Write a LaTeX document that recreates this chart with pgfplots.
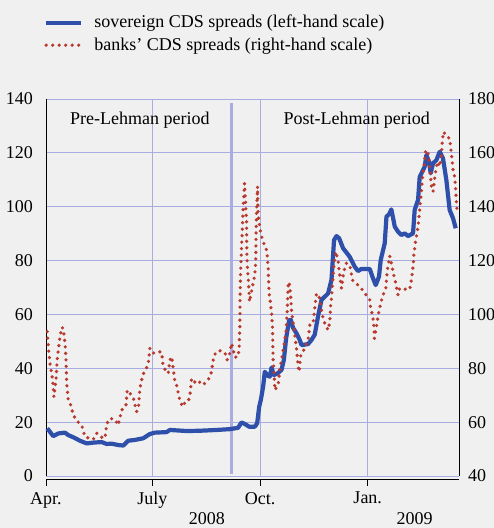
\documentclass[border=0pt]{standalone}
\usepackage{fontspec}
\setmainfont{Liberation Serif}
\usepackage{pgfplots}
\pgfplotsset{compat=1.18}
\definecolor{bg}{RGB}{240,240,240}
\definecolor{gridc}{RGB}{168,172,224}
\definecolor{sov}{RGB}{46,80,170}
\definecolor{bank}{RGB}{184,58,46}
\begin{document}
\fontsize{18}{21.6}\selectfont
\begin{tikzpicture}
\fill[bg] (0,0) rectangle (494pt,528pt);
\useasboundingbox (0,0) rectangle (494pt,528pt);
\begin{axis}[
  at={(46pt,52pt)}, anchor=south west,
  scale only axis, width=413pt, height=377pt,
  xmin=0, xmax=353, ymin=0, ymax=140,
  axis x line*=bottom, axis y line*=left,
  axis line style={-, black, line width=0.8pt},
  x axis line style={yshift=-3pt},
  xtick={0,91,183,275}, xticklabels={Apr.,July,Oct.,Jan.},
  xticklabel style={yshift=-3pt},
  ytick={0,20,...,140},
  xmajorgrids, ymajorgrids,
  grid style={gridc, line width=0.9pt},
  tick align=outside,
  major tick length=7pt,
  xtick style={black, line width=0.8pt, yshift=-3pt},
  ytick style={draw=none},
  /pgf/number format/assume math mode=true,
  clip=false,
  legend style={at={(-0.005,1.228)}, anchor=north west, draw=none, fill=none,
    inner sep=0pt, row sep=3pt, cells={anchor=west}},
  legend image code/.code={\draw[#1] (0pt,0pt) -- (35pt,0pt); \path (44pt,0pt);},
]
\addplot[gridc, line width=3pt, forget plot] coordinates {(158.5,0.7) (158.5,138.5)};
\addplot[sov, line width=4.2pt, line join=round] table {
x y
1.1 17.7
6.2 14.8
10.5 15.8
16.2 16.1
19.0 15.2
23.3 14.4
29.0 13.1
34.8 12.1
40.4 12.4
47.6 12.6
51.8 11.9
56.1 12.0
61.7 11.5
66.0 11.3
70.3 13.1
76.0 13.4
83.1 14.0
88.8 15.6
93.1 16.1
103.1 16.3
105.9 17.1
120.2 16.7
131.5 16.8
145.8 17.1
157.1 17.4
164.2 17.9
167.1 19.9
170.0 19.3
173.6 18.3
178.5 18.3
180.5 19.6
182.2 25.7
183.6 28.2
185.6 33.2
187.0 38.7
189.6 37.2
191.3 36.9
192.8 40.3
194.7 37.5
197.9 38.1
201.3 39.4
203.3 43.1
205.2 51.0
207.8 57.8
209.2 58.0
211.2 55.0
214.1 53.0
216.9 50.5
218.4 48.6
224.0 49.0
226.9 50.5
229.7 52.5
232.6 59.5
235.5 65.4
238.3 66.6
241.1 67.8
244.0 72.8
246.2 87.6
248.3 89.1
250.5 88.3
253.9 84.6
259.6 81.4
263.9 77.7
266.7 76.1
269.6 76.9
276.7 76.9
279.5 73.4
281.8 70.9
284.6 74.0
286.1 80.2
289.5 86.4
291.0 96.3
293.2 97.2
295.2 99.0
298.1 92.6
300.9 90.7
303.8 89.5
306.6 90.1
309.4 89.1
313.7 90.1
315.1 98.8
318.0 102.5
319.4 111.1
320.9 112.4
323.7 114.9
325.1 119.2
327.4 116.7
328.8 112.4
330.8 116.1
333.7 117.3
336.5 120.4
339.3 118.0
342.2 109.9
345.0 98.8
347.9 95.7
350.2 92.0
};
\addlegendentry{sovereign CDS spreads (left-hand scale)}
\addlegendimage{bank, line width=3.6pt, line cap=round, dash pattern=on 0pt off 6.5pt}
\addlegendentry{banks' CDS spreads (right-hand scale)}
\node at (axis cs:80.3,132.2) {Pre-Lehman period};
\node at (axis cs:265.6,132.2) {Post-Lehman period};
\node at (axis cs:137.5,0) [yshift=-43pt] {2008};
\node at (axis cs:315,0) [yshift=-43pt] {2009};
\end{axis}
\begin{axis}[
  at={(46pt,52pt)}, anchor=south west,
  scale only axis, width=413pt, height=377pt,
  xmin=0, xmax=353, ymin=40, ymax=180,
  axis y line*=right, axis x line=none,
  axis line style={-, black, line width=0.8pt},
  ytick={40,60,...,180},
  yticklabel style={xshift=3pt},
  ytick style={draw=none},
  /pgf/number format/assume math mode=true,
]
\addplot[bank, line width=3.6pt, line cap=round, dash pattern=on 0pt off 6.5pt] table {
x y
1.1 93.6
2.0 88.0
3.4 81.8
5.7 75.6
6.8 69.4
8.5 75.6
9.7 83.7
11.4 89.9
13.4 95.2
14.8 94.8
16.2 89.3
17.1 83.1
17.7 74.4
19.0 68.2
21.1 66.4
23.3 62.7
26.2 60.5
30.5 58.9
33.3 54.6
37.0 54.0
40.4 53.6
43.3 55.9
46.1 54.6
50.4 54.0
51.8 59.3
54.7 61.4
58.9 61.0
61.7 58.9
64.7 64.5
68.3 66.0
69.4 71.9
72.3 70.4
74.6 69.2
76.0 66.4
77.5 63.9
79.2 66.4
80.3 72.6
82.6 77.5
85.4 79.6
87.4 81.8
88.8 87.4
91.6 85.6
95.1 86.2
98.8 86.0
100.2 80.6
103.1 78.7
104.5 78.1
105.9 83.1
107.4 84.3
108.7 80.0
110.2 75.0
111.6 73.8
113.0 70.9
114.4 68.2
116.7 65.7
118.7 67.2
121.5 67.6
123.0 70.1
124.4 75.9
125.8 74.6
130.1 75.6
133.0 73.8
135.8 74.4
138.6 75.6
141.5 78.7
142.4 81.6
143.5 84.6
146.3 86.4
149.2 86.5
152.9 85.8
154.8 83.1
157.1 85.6
158.6 89.3
160.0 86.8
161.4 84.1
164.2 84.3
165.1 88.0
165.7 95.4
165.9 107.8
166.3 115.9
168.0 133.8
168.5 140.0
169.4 146.2
169.7 148.7
171.4 134.4
171.7 121.4
172.3 116.5
172.8 114.0
173.6 107.8
173.9 104.7
175.6 108.4
177.0 111.6
178.5 114.6
179.3 120.2
179.6 132.0
179.9 137.6
180.5 143.7
180.8 147.5
181.3 137.6
182.2 133.8
183.6 130.1
185.6 127.0
188.5 123.9
189.3 120.8
189.9 117.7
190.0 115.3
190.7 107.8
191.9 104.1
192.8 100.4
193.6 95.4
193.8 89.3
194.1 83.1
195.0 78.1
195.6 71.9
198.4 73.8
199.8 79.4
202.2 85.6
205.0 93.0
206.1 100.4
206.9 110.3
207.8 112.1
209.0 107.8
209.8 101.6
212.1 94.2
214.1 87.4
215.5 80.6
216.3 78.7
217.8 84.9
221.2 87.4
224.0 90.5
225.5 96.1
228.3 96.7
229.7 102.3
231.2 107.8
233.4 106.6
235.5 101.6
236.8 98.6
238.3 96.7
241.1 94.2
242.6 97.3
243.2 102.9
244.0 106.0
244.9 111.6
246.0 117.7
247.7 123.3
249.6 120.2
250.5 116.5
252.5 109.7
254.5 115.9
256.8 119.0
259.6 118.4
261.9 112.8
263.9 111.8
266.7 110.9
270.5 109.1
276.7 105.4
277.3 102.9
279.0 99.8
280.1 96.7
280.7 91.1
282.4 95.4
284.7 101.6
287.6 106.6
290.4 109.7
291.8 116.5
293.8 121.7
295.2 119.0
296.6 115.9
298.9 111.6
300.9 107.2
302.3 109.7
308.1 109.3
310.9 109.3
312.3 112.8
313.7 117.7
314.5 122.7
316.0 127.6
318.0 132.6
319.4 138.8
320.9 145.6
321.7 150.6
323.1 154.9
324.5 161.1
326.5 159.8
328.0 154.9
329.4 147.4
330.8 145.6
332.2 150.6
333.7 154.9
335.0 156.7
336.5 154.9
337.9 158.6
338.8 164.8
339.9 167.8
342.2 166.0
345.0 165.4
346.5 159.8
347.9 153.6
349.3 151.1
350.2 146.2
350.8 141.3
351.6 137.6
};
\end{axis}
\end{tikzpicture}
\end{document}
